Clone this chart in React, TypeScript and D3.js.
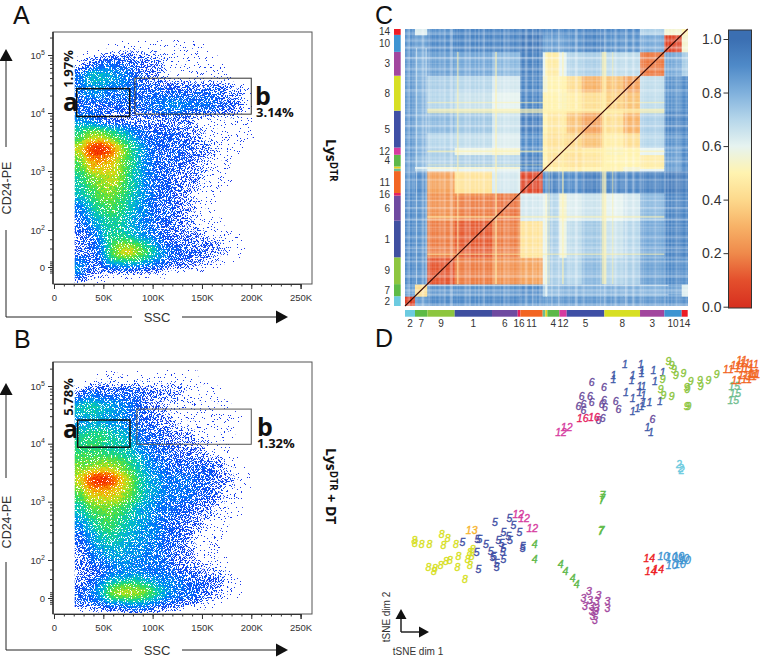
import { useEffect, useRef } from 'react';
import * as d3 from 'd3';

// ---- flow panels: density, scale 0-20
// columns start at these SSC values (K), each 10K wide
const ssCols = [22, 32, 42, 52, 62, 72, 82, 92, 102, 112, 122, 132, 142, 152, 162, 172, 182, 192, 202];
// rows are quarter decades, top row first. 1 on the scale stands for the "0" line
const decadeRows = [5.0, 4.75, 4.5, 4.25, 4.0, 3.75, 3.5, 3.25, 3.0, 2.75, 2.5, 2.25, 2.0, 1.75, 1.5, 1.25, 1.0, 0.75, 0.5];

const densityA = [
  [0, 0, 0, 1, 1, 1, 1, 1, 1, 1, 1, 1, 1, 0, 0, 0, 0, 0, 0],
  [1, 2, 3, 3, 3, 3, 2, 2, 2, 1, 1, 1, 1, 1, 1, 0, 0, 0, 0],
  [4, 7, 7, 6, 5, 4, 3, 2, 2, 1, 1, 1, 1, 1, 1, 1, 0, 0, 0],
  [4, 5, 5, 4, 4, 4, 3, 3, 3, 3, 3, 3, 3, 3, 3, 2, 2, 1, 0],
  [3, 3, 3, 3, 3, 3, 3, 4, 4, 5, 5, 4, 4, 4, 3, 3, 2, 1, 0],
  [5, 4, 3, 2, 2, 2, 2, 2, 2, 2, 2, 2, 1, 1, 1, 1, 1, 1, 0],
  [9, 12, 12, 10, 8, 6, 4, 3, 3, 3, 3, 2, 2, 1, 1, 1, 1, 1, 0],
  [13, 19, 20, 18, 13, 9, 6, 4, 3, 3, 3, 3, 2, 2, 1, 1, 1, 0, 0],
  [10, 15, 15, 14, 12, 9, 6, 4, 3, 3, 3, 2, 2, 1, 1, 1, 0, 0, 0],
  [8, 11, 12, 13, 12, 8, 6, 4, 3, 3, 2, 2, 2, 1, 1, 1, 0, 0, 0],
  [7, 9, 11, 12, 10, 8, 6, 4, 3, 3, 2, 2, 1, 1, 1, 0, 0, 0, 0],
  [4, 7, 9, 10, 9, 7, 5, 4, 3, 3, 2, 2, 1, 1, 0, 0, 0, 0, 0],
  [3, 5, 7, 8, 8, 6, 5, 4, 3, 3, 2, 2, 1, 1, 1, 0, 0, 0, 0],
  [2, 3, 5, 8, 8, 7, 5, 4, 3, 2, 2, 2, 2, 1, 1, 1, 1, 0, 0],
  [2, 3, 4, 9, 11, 11, 9, 7, 4, 3, 3, 2, 2, 2, 2, 1, 1, 0, 0],
  [2, 2, 4, 10, 14, 15, 12, 9, 6, 4, 3, 3, 3, 2, 2, 1, 1, 0, 0],
  [5, 3, 3, 6, 7, 7, 6, 5, 4, 3, 3, 2, 2, 2, 1, 1, 0, 0, 0],
  [5, 2, 2, 2, 2, 2, 2, 2, 2, 1, 1, 1, 1, 0, 0, 0, 0, 0, 0],
  [2, 1, 1, 0, 0, 0, 0, 0, 0, 0, 0, 0, 0, 0, 0, 0, 0, 0, 0],
];

const densityB = [
  [0, 0, 1, 1, 1, 1, 1, 1, 1, 1, 1, 1, 1, 0, 0, 0, 0, 0, 0],
  [2, 4, 3, 3, 3, 3, 3, 2, 2, 2, 2, 1, 1, 1, 1, 0, 0, 0, 0],
  [7, 8, 7, 6, 5, 4, 3, 2, 2, 1, 1, 1, 1, 1, 1, 1, 0, 0, 0],
  [5, 6, 6, 5, 5, 4, 3, 3, 2, 2, 1, 1, 1, 1, 1, 1, 1, 0, 0],
  [8, 9, 9, 8, 7, 6, 4, 3, 3, 2, 2, 2, 1, 1, 1, 1, 0, 0, 0],
  [9, 9, 9, 8, 8, 7, 5, 4, 3, 3, 2, 2, 2, 1, 1, 1, 0, 0, 0],
  [11, 11, 12, 12, 11, 9, 7, 5, 4, 3, 3, 3, 3, 3, 2, 1, 1, 0, 0],
  [13, 19, 20, 19, 15, 12, 8, 6, 5, 4, 4, 4, 3, 3, 2, 2, 1, 1, 0],
  [10, 14, 14, 14, 13, 11, 8, 6, 5, 4, 4, 4, 3, 3, 2, 1, 1, 0, 0],
  [7, 10, 11, 11, 10, 8, 6, 5, 4, 4, 3, 3, 2, 2, 1, 1, 1, 0, 0],
  [5, 7, 9, 10, 8, 7, 6, 5, 4, 3, 3, 2, 2, 1, 1, 1, 0, 0, 0],
  [3, 5, 7, 8, 7, 6, 5, 5, 4, 3, 3, 2, 1, 1, 1, 0, 0, 0, 0],
  [2, 4, 5, 6, 6, 5, 5, 4, 4, 3, 2, 2, 1, 1, 1, 0, 0, 0, 0],
  [2, 3, 3, 4, 5, 5, 4, 4, 4, 3, 2, 2, 2, 1, 1, 1, 0, 0, 0],
  [2, 2, 3, 4, 4, 5, 5, 4, 4, 4, 3, 3, 2, 2, 2, 1, 1, 0, 0],
  [2, 3, 5, 8, 9, 9, 9, 7, 5, 5, 4, 3, 3, 3, 2, 1, 1, 0, 0],
  [3, 4, 6, 12, 14, 14, 13, 11, 8, 5, 4, 4, 3, 2, 2, 1, 1, 0, 0],
  [3, 3, 4, 5, 5, 6, 6, 5, 4, 3, 3, 2, 2, 1, 1, 0, 0, 0, 0],
  [0, 1, 1, 1, 1, 2, 2, 2, 1, 1, 1, 0, 0, 0, 0, 0, 0, 0, 0],
];

// gates as [ssc from, ssc to, decade top, decade bottom]
const gateA_a = [23, 76.7, 4.42, 3.94];
const gateA_b = [82, 200, 4.6, 3.98];
const gateB_a = [24, 77, 4.41, 3.94];
const gateB_b = [84, 200, 4.6, 3.99];

const sscTicks = [0, 50, 100, 150, 200, 250];
const sscMinor = d3.range(0, 260, 10);
const decadeTicks = [1, 2, 3, 4, 5];

// ---- heatmap
const clusterIds = ['2', '7', '9', '1', '6', '16', '11', '15', '13', '4', '12', '5', '8', '3', '10', '14'];
const clusterSizes = [30, 37, 82, 112, 77, 8, 67, 8, 6, 36, 22, 113, 107, 73, 52, 18];
const clusterColors = ['#6ccbe0', '#5dbb46', '#8dc63f', '#3f4fa0', '#6f4aa0', '#e6215f', '#f26522', '#6fbe8f', '#e8d020', '#5db848', '#d63ca0', '#3f4fa5', '#d7df23', '#a2469e', '#3d94d2', '#ed1c24'];
const unlabelled = ['15', '13'];

// matrix blocks: clusters 5 and 8 fall into two parts each
const blockSizes = [30, 37, 82, 112, 77, 8, 67, 8, 6, 36, 22, 45, 68, 57, 50, 73, 52, 18];

// upper triangle, each row starts on its own diagonal cell
const distances = [
  [0.05, 0.85, 0.9, 0.9, 0.9, 0.9, 0.88, 0.85, 0.85, 0.85, 0.86, 0.86, 0.86, 0.86, 0.86, 0.86, 0.88, 0.88],
  [0.42, 0.88, 0.88, 0.88, 0.88, 0.9, 0.72, 0.62, 0.78, 0.8, 0.8, 0.8, 0.8, 0.8, 0.8, 0.84, 0.62],
  [0.11, 0.18, 0.22, 0.22, 0.26, 0.6, 0.55, 0.72, 0.72, 0.7, 0.78, 0.7, 0.72, 0.84, 0.9, 0.88],
  [0.12, 0.18, 0.22, 0.44, 0.6, 0.55, 0.72, 0.58, 0.68, 0.74, 0.66, 0.7, 0.82, 0.92, 0.92],
  [0.16, 0.18, 0.64, 0.6, 0.55, 0.7, 0.55, 0.62, 0.66, 0.6, 0.64, 0.78, 0.92, 0.92],
  [0.18, 0.62, 0.6, 0.55, 0.7, 0.55, 0.62, 0.66, 0.6, 0.64, 0.78, 0.92, 0.92],
  [0.07, 0.9, 0.85, 0.93, 0.9, 0.9, 0.94, 0.92, 0.92, 0.93, 0.96, 0.94],
  [0.5, 0.45, 0.5, 0.5, 0.48, 0.5, 0.5, 0.55, 0.6, 0.85, 0.9],
  [0.45, 0.5, 0.5, 0.48, 0.5, 0.5, 0.55, 0.5, 0.85, 0.9],
  [0.44, 0.45, 0.43, 0.45, 0.5, 0.5, 0.47, 0.85, 0.9],
  [0.46, 0.44, 0.46, 0.52, 0.5, 0.6, 0.85, 0.9],
  [0.4, 0.34, 0.48, 0.42, 0.7, 0.88, 0.9],
  [0.26, 0.42, 0.3, 0.72, 0.92, 0.92],
  [0.38, 0.34, 0.68, 0.88, 0.9],
  [0.26, 0.68, 0.88, 0.9],
  [0.17, 0.82, 0.72],
  [0.06, 0.55],
  [0.5],
];

// samples that stand out as pale lines: [position, width, opacity]
const paleStrips = [[156, 5, 0.55], [270, 6, 0.55], [471, 5, 0.6], [590, 14, 0.65], [621, 4, 0.5], [430, 4, 0.35]];
const whiteStrips = [[33, 2, 0.75], [62, 2.5, 0.8]];

const colorStops = [0, 0.1, 0.2, 0.3, 0.4, 0.5, 0.6, 0.7, 0.8, 0.9, 1];
const colorValues = ['#d7301f', '#e4502d', '#ef8a4b', '#f7b267', '#fdd98c', '#fff3b0', '#e6f3f0', '#b5d6ea', '#7fb0dc', '#4f8ac8', '#3b6fb2'];
const barTicks = [0, 0.2, 0.4, 0.6, 0.8, 1];

// ---- tSNE points, [dim 1, dim 2]
const tsneColors: Record<string, string> = {
  '1': '#3f5ba9', '2': '#6ccbe0', '3': '#a2469e', '4': '#5db848', '5': '#3f4fa5', '6': '#6a4c9c', '7': '#5dbb46', '8': '#d7df23',
  '9': '#8dc63f', '10': '#3d94d2', '11': '#f26522', '12': '#d63ca0', '13': '#f7b32b', '14': '#ed1c24', '15': '#6fbe8f', '16': '#e6215f',
};
const points1 = [[16.5, 39.8], [21.2, 39.7], [21.5, 38], [21.5, 37], [13, 36.5], [13, 35.2], [18.8, 36.5], [18.5, 35], [25, 37.8], [27.8, 37.2], [25.5, 34.5], [20.8, 33], [22, 33.2], [16.8, 31.3], [20.8, 31.2], [22, 30.5], [18.8, 29.5], [23.8, 28.2], [22, 28], [27, 28.5], [20.2, 26.5], [18.8, 25.5], [21.5, 27.2], [23.2, 20.8], [24.3, 19.2]];
const points2 = [[32.7, 9.8], [33.5, 7.8], [33.3, 8.5]];
const points3 = [[5.7, -28.5], [8.5, -29.7], [4, -30.5], [11.2, -31.3], [11.2, -33.5], [6, -31.2], [8, -31.5], [4.5, -32.8], [6.5, -33], [8, -33.5], [6.5, -34.5], [7.8, -34.5], [6.8, -36], [7.5, -37.2]];
const points4 = [[-10.6, -14.2], [-10.6, -18.8], [-2.8, -20.3], [-1.4, -22.5], [0.8, -24.4], [2, -26.2]];
const points5 = [[-32.3, -13.7], [-22.5, -7.8], [-18.2, -6.5], [-17, -8.7], [-15.2, -10.6], [-20, -10.8], [-18.5, -11.8], [-21.5, -13], [-18, -13], [-20.5, -14], [-27.8, -12.8], [-25.2, -14.2], [-27.2, -12.8], [-28, -16.8], [-23.8, -16.5], [-23.2, -18.2], [-22.8, -18], [-20, -15.5], [-20.2, -16.8], [-20, -18.8], [-14.2, -14.8], [-14.2, -15.6], [-27.5, -21.7], [-22, -20], [-22, -21.3]];
const points6 = [[6.5, 34.2], [10.2, 32.8], [3.5, 30], [6, 30], [2.5, 27.2], [4, 27.8], [4, 26], [6.5, 28.2], [10.2, 28.8], [9.5, 27.8], [10.5, 26.8], [13.7, 28.5], [14.5, 26.2], [24.7, 23.2], [8.5, 22.8], [9.8, 23.4]];
const points7 = [[9.7, 0.5], [9.7, -0.5], [9.5, -1.2], [9.5, -10], [9.2, -10.5]];
const points8 = [[-46.7, -13.2], [-46.5, -14], [-44.5, -14.2], [-42.2, -14.3], [-38.5, -11.2], [-36.7, -12.5], [-38, -14.7], [-34.2, -14.2], [-33.5, -18], [-33.8, -21.2], [-36, -19.2], [-37.2, -19.3], [-38.8, -20.5], [-40.5, -21.5], [-42.5, -21.3], [-40.8, -22.5], [-31.5, -24.7], [-30, -20.5], [-30.7, -18.8], [-30, -16.8], [-29.2, -15.8], [-29.5, -18]];
const points9 = [[29.5, 40.5], [30.5, 39.5], [31.2, 38.3], [31.8, 36.3], [34, 37], [27.8, 35.2], [27.2, 32.2], [28, 30.5], [30.5, 30.2], [35, 32.8], [35.2, 32.2], [36.2, 34.5], [39, 35], [39.2, 33.2], [41.5, 34.8], [44, 36.8], [35, 27.2], [35.5, 27.2]];
const points10 = [[28, -18], [30.5, -18.2], [32.5, -18], [34, -18.5], [30.5, -20.5], [33, -20.3], [34.5, -19]];
const points11 = [[47.5, 38.2], [49.8, 39.5], [51.5, 40.8], [52.5, 40], [55, 39.7], [51, 38.5], [53.5, 38.5], [55, 37], [52, 36.5], [50, 34.8], [53, 35.2], [55.5, 36.6], [54.5, 36]];
const points12 = [[-1, 20.8], [-2.7, 19.4], [-15.5, -5.3], [-13.8, -6.5], [-11.3, -9.5]];
const points13 = [[-29.5, -10]];
const points14 = [[23.8, -18.5], [24.2, -22.5], [26.5, -21.7]];
const points15 = [[49.3, 33], [49.6, 31], [49, 28.8]];
const points16 = [[3.8, 23.6], [7.2, 23.8]];

const tsneSeries: [string, number[][]][] = [
  ['8', points8], ['5', points5], ['4', points4], ['3', points3], ['12', points12], ['13', points13], ['7', points7], ['2', points2],
  ['14', points14], ['10', points10], ['6', points6], ['1', points1], ['9', points9], ['16', points16], ['15', points15], ['11', points11],
];

const sans = '"Liberation Sans", Arial, sans-serif';
const bold = '"Open Sans", "Noto Sans", sans-serif';

// jet-like table for the density filter, equal steps from 0 to 1
const jetR = '0.12 0.1 0 0 0.1 0.4 0.85 0.98 0.98 0.94';
const jetG = '0.12 0.2 0.45 0.72 0.85 0.88 0.88 0.62 0.32 0.12';
const jetB = '0.85 0.92 1 0.85 0.5 0.2 0.1 0 0 0';

function flowPanel(svg: any, density: number[][], top: number, ys: number[], clipId: string) {
  const x = d3.scaleLinear().domain([0, 250]).range([54, 300.6]);
  const y = d3.scaleLinear().domain([1, 2, 3, 4, 5]).range(ys);
  const box = { left: 53, right: 312, top, bottom: top + 252 };

  svg.append('clipPath').attr('id', clipId).append('rect')
    .attr('x', x(21)).attr('y', box.top + 1).attr('width', box.right - x(21)).attr('height', box.bottom - box.top - 2);

  const clip = svg.append('g').attr('clip-path', `url(#${clipId})`);
  const dots = clip.append('g').attr('filter', 'url(#flowDots)');
  dots.append('rect').attr('x', 0).attr('y', box.top - 40).attr('width', 340).attr('height', 340).attr('fill', '#000');
  density.forEach((row, r) => {
    row.forEach((v, c) => {
      const g = Math.round((v / 20) * 255);
      const x0 = c === 0 ? x(5) : x(ssCols[c]);
      const x1 = x(ssCols[c] + 10);
      const y0 = y(decadeRows[r] + 0.25);
      const y1 = y(decadeRows[r]);
      dots.append('rect').attr('x', x0).attr('y', y0).attr('width', x1 - x0 + 0.5).attr('height', y1 - y0 + 0.5)
        .attr('fill', `rgb(${g},${g},${g})`);
    });
  });

  // frame
  svg.append('rect').attr('x', box.left).attr('y', box.top).attr('width', box.right - box.left).attr('height', box.bottom - box.top)
    .attr('fill', 'none').attr('stroke', '#555').attr('stroke-width', 1);

  // x axis
  const xg = svg.append('g').attr('transform', `translate(0,${box.bottom})`);
  xg.call(d3.axisBottom(x).tickValues(sscMinor).tickSize(2.5).tickFormat(() => ''));
  xg.append('g').call(
    d3.axisBottom(x).tickValues(sscTicks).tickSize(5).tickPadding(5)
      .tickFormat((d: any) => (d === 0 ? '0' : `${d}K`))
  );
  xg.selectAll('text').attr('font-family', sans).attr('font-size', 9.5).attr('fill', '#333');
  xg.selectAll('path,line').attr('stroke', '#333');

  // y axis, minor ticks on log positions plus the cluster round zero
  const minor: number[] = [0.85, 0.9, 0.95, 1, 1.05, 1.1, 1.15, 1.5, 1.75, 5.301];
  decadeTicks.slice(1, 4).forEach((d) => [2, 3, 4, 5, 6, 7, 8, 9].forEach((k) => minor.push(d + Math.log10(k))));
  const yg = svg.append('g').attr('transform', `translate(${box.left},0)`);
  yg.call(d3.axisLeft(y).tickValues(minor).tickSize(3).tickFormat(() => ''));
  const major = yg.append('g').call(d3.axisLeft(y).tickValues(decadeTicks).tickSize(5).tickPadding(3).tickFormat(() => ''));
  major.selectAll('text').each(function (this: any, d: any) {
    const t = d3.select(this).attr('font-family', sans).attr('font-size', 9.5).attr('fill', '#333');
    if (d === 1) {
      t.text('0');
    } else {
      t.append('tspan').text('10');
      t.append('tspan').attr('font-size', 7).attr('dy', -4).text(d);
    }
  });
  yg.selectAll('path,line').attr('stroke', '#333');
  yg.selectAll('path').attr('d', `M0,${box.top}V${box.bottom}`);

  return { x, y };
}

function drawGate(svg: any, x: any, y: any, gate: number[], width: number, color: string) {
  svg.append('rect').attr('x', x(gate[0])).attr('y', y(gate[2])).attr('width', x(gate[1]) - x(gate[0])).attr('height', y(gate[3]) - y(gate[2]))
    .attr('fill', 'none').attr('stroke', color).attr('stroke-width', width);
}

function label(svg: any, txt: string, px: number, py: number, size: number, family: string, weight = 'normal', rotate = 0, anchor = 'start') {
  return svg.append('text').attr('transform', `translate(${px},${py}) rotate(${rotate})`).attr('font-family', family).attr('font-size', size)
    .attr('font-weight', weight).attr('text-anchor', anchor).attr('fill', '#111').text(txt);
}

function arrow(svg: any, x1: number, y1: number, x2: number, y2: number, head = 12, width = 1) {
  const a = Math.atan2(y2 - y1, x2 - x1);
  svg.append('line').attr('x1', x1).attr('y1', y1).attr('x2', x2 - Math.cos(a) * head * 0.8).attr('y2', y2 - Math.sin(a) * head * 0.8)
    .attr('stroke', '#222').attr('stroke-width', width);
  const bx = x2 - Math.cos(a) * head;
  const by = y2 - Math.sin(a) * head;
  const nx = -Math.sin(a) * head * 0.55;
  const ny = Math.cos(a) * head * 0.55;
  svg.append('path').attr('d', `M${x2},${y2}L${bx + nx},${by + ny}L${bx - nx},${by - ny}Z`).attr('fill', '#111');
}

function sideLabel(svg: any, py: number, extra: string) {
  const t = svg.append('text').attr('transform', `translate(326,${py}) rotate(90)`).attr('font-family', bold).attr('font-size', 14).attr('font-weight', 700).attr('fill', '#111');
  t.append('tspan').text('Lys');
  t.append('tspan').attr('font-size', 10).attr('dy', -4).text('DTR');
  if (extra) t.append('tspan').attr('dy', 4).text(extra);
}

function axisFrame(svg: any, o: { tip: number; upperEnd: number; lowerStart: number; base: number; titleY: number }) {
  arrow(svg, 6, o.upperEnd, 6, o.tip);
  svg.append('line').attr('x1', 6).attr('y1', o.lowerStart).attr('x2', 6).attr('y2', o.base).attr('stroke', '#222');
  svg.append('line').attr('x1', 6).attr('y1', o.base).attr('x2', 132).attr('y2', o.base).attr('stroke', '#222');
  arrow(svg, 182, o.base, 288, o.base);
  label(svg, 'CD24-PE', 10.5, o.titleY, 12.5, sans, 'normal', -90, 'middle').attr('fill', '#333');
  label(svg, 'SSC', 157, o.base + 5, 13, sans, 'normal', 0, 'middle').attr('fill', '#333');
}

export default function App() {
  const svgRef = useRef<SVGSVGElement>(null);

  useEffect(() => {
    if (!svgRef.current) return;
    const svg = d3.select(svgRef.current);
    svg.selectAll('g,text,rect,line,path,clipPath').remove();

    // Panels A and B
    const a = flowPanel(svg, densityA, 32, [267, 230, 171, 113, 55], 'clipA');
    drawGate(svg, a.x, a.y, gateA_a, 1.5, '#111');
    drawGate(svg, a.x, a.y, gateA_b, 1, '#333');
    const b = flowPanel(svg, densityB, 362, [598, 560, 501.7, 443.7, 386], 'clipB');
    drawGate(svg, b.x, b.y, gateB_a, 1.5, '#111');
    drawGate(svg, b.x, b.y, gateB_b, 1, '#555');

    label(svg, 'A', 13, 24, 25, sans);
    label(svg, 'B', 14, 348, 25, sans);
    label(svg, 'C', 375, 24, 25, sans);
    label(svg, 'D', 375, 347, 25, sans);

    label(svg, 'a', 63, 111, 25, bold, '700');
    label(svg, 'b', 255, 105, 25, bold, '700');
    label(svg, '3.14%', 256, 117, 13, bold, '700');
    label(svg, '1.97%', 73, 69, 13, bold, '700', -90, 'middle');
    label(svg, 'a', 63, 438, 25, bold, '700');
    label(svg, 'b', 257, 436, 25, bold, '700');
    label(svg, '1.32%', 257, 448, 13, bold, '700');
    label(svg, '5.78%', 73, 397, 13, bold, '700', -90, 'middle');
    sideLabel(svg, 139, '');
    sideLabel(svg, 448, ' + DT');

    axisFrame(svg, { tip: 49, upperEnd: 147, lowerStart: 230, base: 317, titleY: 188 });
    axisFrame(svg, { tip: 383, upperEnd: 478, lowerStart: 562, base: 650, titleY: 522 });

    // Panel C
    const total = d3.sum(clusterSizes);
    const sizesBefore = (sizes: number[], i: number) => d3.sum(sizes.slice(0, i));
    const mx = d3.scaleLinear().domain([0, total]).range([405, 687.7]);
    const my = d3.scaleLinear().domain([0, total]).range([306, 29]);
    const color = d3.scaleLinear<string>().domain(colorStops).range(colorValues).clamp(true);
    const n = blockSizes.length;
    const dist = (i: number, j: number) => (i <= j ? distances[i][j - i] : distances[j][i - j]);

    const cells = svg.append('g').attr('filter', 'url(#plaid)');
    for (let i = 0; i < n; i++) {
      for (let j = 0; j < n; j++) {
        const x0 = sizesBefore(blockSizes, i);
        const y0 = sizesBefore(blockSizes, j);
        cells.append('rect')
          .attr('x', mx(x0))
          .attr('y', my(y0 + blockSizes[j]))
          .attr('width', mx(x0 + blockSizes[i]) - mx(x0) + 0.4)
          .attr('height', my(y0) - my(y0 + blockSizes[j]) + 0.4)
          .attr('fill', color(dist(i, j)));
      }
    }
    const strip = (list: number[][], fill: string, from: number, to: number) => {
      list.forEach(([pos, w, op]) => {
        svg.append('rect').attr('x', mx(pos)).attr('y', my(to)).attr('width', mx(pos + w) - mx(pos)).attr('height', my(from) - my(to)).attr('fill', fill).attr('opacity', op);
        svg.append('rect').attr('x', mx(from)).attr('y', my(pos + w)).attr('width', mx(to) - mx(from)).attr('height', my(pos) - my(pos + w)).attr('fill', fill).attr('opacity', op);
      });
    };
    strip(paleStrips, '#fff3b0', 67, 778);
    strip(whiteStrips, '#f4f8f8', 67, 790);

    svg.append('line').attr('x1', mx(0)).attr('y1', my(0)).attr('x2', mx(total)).attr('y2', my(total)).attr('stroke', '#3a0a05').attr('stroke-width', 1.1);

    clusterIds.forEach((id, i) => {
      const s = sizesBefore(clusterSizes, i);
      const e = s + clusterSizes[i];
      svg.append('rect').attr('x', mx(s)).attr('y', 310).attr('width', mx(e) - mx(s)).attr('height', 6.7).attr('fill', clusterColors[i]);
      svg.append('rect').attr('x', 394).attr('y', my(e)).attr('width', 6.7).attr('height', my(s) - my(e)).attr('fill', clusterColors[i]);
      if (unlabelled.includes(id)) return;
      const mid = (s + e) / 2;
      label(svg, id, mx(mid), 327, 10, sans, 'normal', 0, 'middle').attr('fill', '#333');
      label(svg, id, 390, my(mid) + 3.5, 10, sans, 'normal', 0, 'end').attr('fill', '#333');
    });

    // colour bar
    const by = d3.scaleLinear().domain([0, 1]).range([306.7, 39]);
    const barTop = 30;
    const barBottom = 308;
    const grad = svg.append('linearGradient').attr('id', 'barGrad').attr('gradientUnits', 'userSpaceOnUse').attr('x1', 0).attr('x2', 0).attr('y1', by(0)).attr('y2', by(1));
    colorStops.forEach((s, i) => grad.append('stop').attr('offset', s).attr('stop-color', colorValues[i]));
    svg.append('rect').attr('x', 728.5).attr('y', barTop).attr('width', 23).attr('height', barBottom - barTop).attr('fill', 'url(#barGrad)').attr('stroke', '#333').attr('stroke-width', 1);
    const barAxis = svg.append('g').attr('transform', 'translate(728.5,0)').call(d3.axisLeft(by).tickValues(barTicks).tickSize(5).tickPadding(2).tickFormat(d3.format('.1f') as any));
    barAxis.select('.domain').remove();
    barAxis.selectAll('text').attr('font-family', sans).attr('font-size', 14).attr('fill', '#333');
    barAxis.selectAll('line').attr('stroke', '#333');

    // Panel D
    const tx = d3.scaleLinear().domain([-60, 57.6]).range([370, 762]);
    const ty = d3.scaleLinear().domain([50, -48.1]).range([330, 657]);
    const marks = svg.append('g').attr('font-family', sans).attr('font-size', 10.5).attr('font-style', 'italic').attr('text-anchor', 'middle').attr('stroke-width', 0.35);
    tsneSeries.forEach(([id, pts]) => {
      marks.selectAll(null).data(pts).enter().append('text')
        .attr('x', (d: number[]) => tx(d[0]))
        .attr('y', (d: number[]) => ty(d[1]))
        .attr('dy', '0.35em')
        .attr('fill', tsneColors[id])
        .attr('stroke', tsneColors[id])
        .text(id);
    });
    arrow(svg, 401, 632, 401, 609, 10, 1.5);
    arrow(svg, 401, 632, 429, 632, 10, 1.5);
    label(svg, 'tSNE dim 2', 390, 617, 10, sans, 'normal', -90, 'middle').attr('fill', '#333');
    label(svg, 'tSNE dim 1', 418, 654.5, 10, sans, 'normal', 0, 'middle').attr('fill', '#333');
  }, []);

  return (
    <svg ref={svgRef} width={762} height={657} style={{ position: 'absolute', left: 0, top: 0, background: '#fff' }}>
      <defs>
        <filter id="flowDots" filterUnits="userSpaceOnUse" x="0" y="0" width="340" height="657" colorInterpolationFilters="sRGB">
          <feGaussianBlur in="SourceGraphic" stdDeviation="4" result="d" />
          <feTurbulence type="fractalNoise" baseFrequency="1.3" numOctaves="1" seed="3" result="t" />
          <feColorMatrix in="t" type="matrix" values="3 0 0 0 -1  3 0 0 0 -1  3 0 0 0 -1  0 0 0 0 1" result="n" />
          <feComposite in="d" in2="n" operator="arithmetic" k1="0" k2="1" k3="0.16" k4="-0.08" result="v" />
          <feComponentTransfer in="v" result="c">
            <feFuncR type="table" tableValues={jetR} />
            <feFuncG type="table" tableValues={jetG} />
            <feFuncB type="table" tableValues={jetB} />
          </feComponentTransfer>
          <feComposite in="d" in2="n" operator="arithmetic" k1="9" k2="0" k3="0" k4="0" result="m" />
          <feColorMatrix in="m" type="matrix" values="0 0 0 0 0  0 0 0 0 0  0 0 0 0 0  20 0 0 0 -10" result="mask1" />
          {/* thin tail: only the rare high noise values survive where the density is low */}
          <feColorMatrix in="t" type="matrix" values="8 0 0 0 -5.0  8 0 0 0 -5.0  8 0 0 0 -5.0  0 0 0 0 1" result="rare" />
          <feComposite in="d" in2="rare" operator="arithmetic" k1="30" k2="0" k3="0" k4="0" result="m2" />
          <feColorMatrix in="m2" type="matrix" values="0 0 0 0 0  0 0 0 0 0  0 0 0 0 0  20 0 0 0 -10" result="mask2" />
          <feMerge result="mask">
            <feMergeNode in="mask1" />
            <feMergeNode in="mask2" />
          </feMerge>
          <feComposite in="c" in2="mask" operator="in" />
        </filter>
        <filter id="plaid" filterUnits="userSpaceOnUse" x="405" y="29" width="283" height="277" colorInterpolationFilters="sRGB">
          <feTurbulence type="fractalNoise" baseFrequency="0.28 0" numOctaves="2" seed="5" result="vt" />
          <feColorMatrix in="vt" type="matrix" values="0 0 0 0 1  0 0 0 0 1  0 0 0 0 1  1.2 0 0 0 -0.52" result="vs" />
          <feTurbulence type="fractalNoise" baseFrequency="0 0.28" numOctaves="2" seed="5" result="ht" />
          <feColorMatrix in="ht" type="matrix" values="0 0 0 0 1  0 0 0 0 1  0 0 0 0 1  1.2 0 0 0 -0.52" result="hs" />
          <feMerge>
            <feMergeNode in="SourceGraphic" />
            <feMergeNode in="vs" />
            <feMergeNode in="hs" />
          </feMerge>
        </filter>
      </defs>
    </svg>
  );
}
